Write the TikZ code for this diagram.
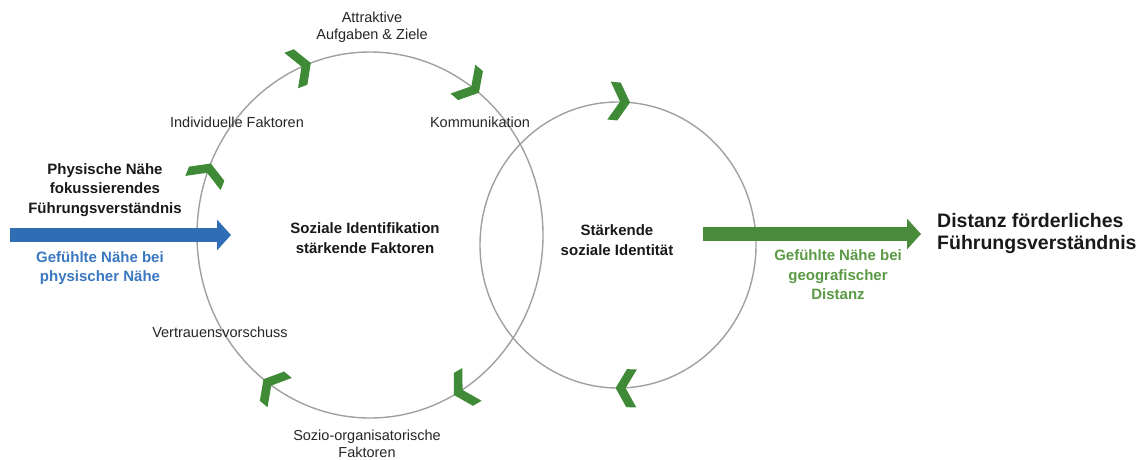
\documentclass[tikz,border=0pt]{standalone}
\usepackage{fontspec}
\setmainfont{Liberation Sans}
\usetikzlibrary{arrows.meta}
\definecolor{ringgray}{HTML}{A0A0A0}
\definecolor{chevgreen}{HTML}{3F8A36}
\definecolor{flowblue}{HTML}{2F6DB5}
\definecolor{flowgreen}{HTML}{4A8A3B}
\definecolor{txtblue}{HTML}{3A78C2}
\definecolor{txtgreen}{HTML}{5A9A45}
\tikzset{
  ring/.style={draw=ringgray, line width=1.4pt},
  lbl/.style={font=\fontsize{14.5}{17}\selectfont, align=center, text=black!85, inner sep=0pt},
  head/.style={font=\bfseries\fontsize{15}{19.5}\selectfont, align=center, text=black!90, inner sep=0pt},
  bigtitle/.style={font=\bfseries\fontsize{19.5}{22}\selectfont, align=left, text=black!90, inner sep=0pt, anchor=west},
  flow/.style={line width=14pt, -{Triangle[length=14pt,width=30pt]}},
  chev/.pic={\fill[chevgreen] (0,0) -- (-11,19) -- (-21,19) -- (-10,0) -- (-21,-19) -- (-11,-19) -- cycle;}
}
\begin{document}
\begin{tikzpicture}[x=1pt, y=-1pt]
\useasboundingbox[fill=white] (0,0) rectangle (1142,460);

% the two rings
\draw[ring] (370,235) ellipse [x radius=173pt, y radius=183pt];
\draw[ring] (618,245) ellipse [x radius=138pt, y radius=143pt];

% clockwise chevrons on the left ring
\path (210.8,163.5) pic[rotate=68.1] {chev};
\path (310.8,63) pic[rotate=21.1] {chev};
\path (478.9,92.8) pic[rotate=-40.6] {chev};
\path (453.9,395) pic[rotate=-149.6] {chev};
\path (263.5,379.2) pic[rotate=140.4] {chev};
% clockwise chevrons on the right ring
\path (630,102.5) pic[rotate=-5.2] {chev};
\path (615.6,388) pic[rotate=179] {chev};

% factor labels around the left ring
\node[lbl] (attr) at (372,27) {Attraktive\\Aufgaben \& Ziele};
\node[lbl] (indiv) at (237,122) {Individuelle Faktoren};
\node[lbl] (komm) at (480,122) {Kommunikation};
\node[lbl] (vertr) at (220,332) {Vertrauensvorschuss};
\node[lbl] (sozio) at (367,444) {Sozio-organisatorische\\Faktoren};

% ring centres
\node[head] (sozid) at (365,238) {Soziale Identifikation\\stärkende Faktoren};
\node[head] (staerk) at (617,240) {Stärkende\\soziale Identität};

% left side: starting point
\node[head] (phys) at (105,190) {Physische Nähe\\fokussierendes\\Führungsverständnis};
\coordinate (bstart) at (10,235);
\coordinate (bend) at (231,235);
\draw[flow, flowblue] (bstart) -- (bend);
\node[head, text=txtblue] (bnear) at (100,268) {Gefühlte Nähe bei\\physischer Nähe};

% right side: outcome
\coordinate (gstart) at (703,234);
\coordinate (gend) at (921,234);
\draw[flow, flowgreen] (gstart) -- (gend);
\node[head, text=txtgreen] (gnear) at (838,275) {Gefühlte Nähe bei\\geografischer\\Distanz};
\node[bigtitle] (dist) at (937,233) {Distanz förderliches\\Führungsverständnis};
\end{tikzpicture}
\end{document}
